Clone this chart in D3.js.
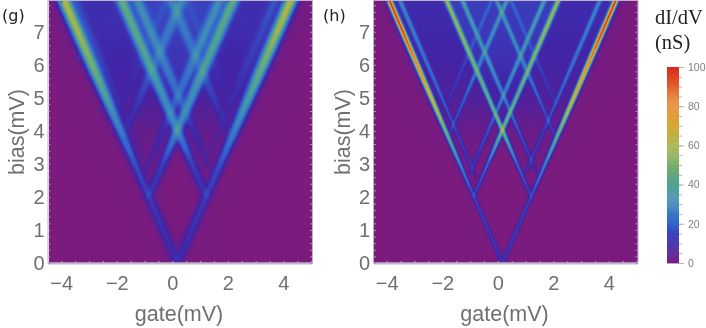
<!DOCTYPE html>
<html>
<head>
<meta charset="utf-8">
<script src="https://cdn.jsdelivr.net/npm/d3@7"></script>
<style>
html, body { margin: 0; padding: 0; background: #fff; }
#chart { position: relative; width: 706px; height: 328px; overflow: hidden; filter: blur(0.45px); }
canvas { position: absolute; }
svg { position: absolute; left: 0; top: 0; }
.tick text { font-family: "Liberation Sans", sans-serif; }
</style>
</head>
<body>
<div id="chart"></div>
<script>
// colour key of the figure, nS -> colour
const colorValues = [0, 2, 5, 9, 14, 20, 30, 40, 50, 60, 70, 80, 90, 100];
const colorStops = ["#7b1b7e", "#6c1c88", "#562096", "#4124a6", "#3a3cba", "#3562cc", "#3d88bb", "#4fa292", "#78ad6c", "#a9b44c", "#d3aa3a", "#e6923a", "#e4602e", "#d92a20"];

// crest lines of the conductance maps. "u" runs up and to the left, "v" up and to the right.
// crestGate is where the line would hit zero bias, crestStart the bias where it shows up
const crestKind = ["u", "u", "u", "u", "u", "u", "v", "v", "v", "v", "v", "v"];
const crestGate = [0.17, 0.55, 2.23, 2.8, 4.03, 4.55, 0.17, -0.4, -1.9, -2.4, -3.75, -4.3];
const crestStart = [0, 2.6, 1.95, 2.65, 3.8, 4.8, 0, 2.7, 1.95, 2.65, 3.8, 4.8];

// crest height (nS) read at these bias values
const biasKnots = [0, 2, 3, 4, 5, 6, 7, 7.9];
const crestsG = [
  [10, 13, 17, 26, 38, 50, 59, 63],
  [0, 0, 3, 5, 8, 10, 12, 12],
  [0, 11, 14, 28, 31, 38, 42, 44],
  [0, 0, 5, 10, 18, 24, 28, 29],
  [0, 0, 0, 7, 12, 18, 22, 26],
  [0, 0, 0, 0, 5, 7, 9, 9],
  [10, 13, 17, 27, 38, 48, 58, 63],
  [0, 0, 3, 5, 8, 10, 12, 14],
  [0, 11, 14, 28, 31, 37, 41, 43],
  [0, 0, 5, 10, 18, 24, 28, 29],
  [0, 0, 0, 7, 12, 18, 22, 26],
  [0, 0, 0, 0, 5, 7, 9, 9]
];
const crestsH = [
  [12, 15, 28, 50, 74, 84, 97, 98],
  [0, 0, 13, 14, 18, 22, 25, 27],
  [0, 13, 20, 50, 44, 50, 57, 58],
  [0, 0, 12, 17, 25, 30, 33, 35],
  [0, 0, 0, 13, 18, 25, 29, 32],
  [0, 0, 0, 0, 10, 12, 14, 15],
  [12, 15, 28, 50, 74, 84, 97, 98],
  [0, 0, 13, 14, 18, 22, 25, 27],
  [0, 13, 20, 50, 44, 50, 57, 58],
  [0, 0, 12, 17, 25, 30, 33, 35],
  [0, 0, 0, 13, 18, 25, 29, 32],
  [0, 0, 0, 0, 10, 12, 14, 15]
];
// crest width in gate units, same bias knots
const widthG = [0.14, 0.13, 0.13, 0.14, 0.15, 0.16, 0.16, 0.16];
const widthH = [0.06, 0.055, 0.055, 0.06, 0.065, 0.07, 0.07, 0.07];

// level between the crests
const plateauG = [0, 0, 1, 4, 9, 12, 14, 15];
const plateauH = [0, 0, 1, 3, 8, 11, 13, 14];

// stray points on the left edge of panel g: gate, bias, nS
const specksGate = [-3.42, -2.65, -2.55, -2.38];
const specksBias = [6.2, 4.62, 4.33, 4.1];
const specksValue = [14, 6, 5, 4];

const xTicks = [-4, -2, 0, 2, 4];
const yTicks = [0, 1, 2, 3, 4, 5, 6, 7];
const keyTicks = [0, 20, 40, 60, 80, 100];
const slope = 1.95;

const W = 706, H = 328, plotTop = 1, plotBottom = 263;
const grey = "#6f6f6f";
const color = d3.scaleLinear().domain(colorValues).range(colorStops).clamp(true);
const svg = d3.select("#chart").append("svg").attr("width", W).attr("height", H);

function smooth(t) {
  t = Math.max(0, Math.min(1, t));
  return t * t * (3 - 2 * t);
}

function drawPanel(name, labelX, left, right, crests, widths, plateau, specks) {
  const x = d3.scaleLinear().domain([-4.46, 5.03]).range([left, right]);
  const y = d3.scaleLinear().domain([0, 7.93]).range([plotBottom, plotTop]);
  const heights = crests.map(row => d3.scaleLinear().domain(biasKnots).range(row));
  const widthAt = d3.scaleLinear().domain(biasKnots).range(widths);
  const plateauAt = d3.scaleLinear().domain(biasKnots).range(plateau);

  const w = Math.round(right - left), h = plotBottom - plotTop;
  const canvas = d3.select("#chart").append("canvas")
    .attr("width", w).attr("height", h)
    .style("left", left + "px").style("top", plotTop + "px")
    .style("z-index", -1)
    .node();
  const ctx = canvas.getContext("2d");
  const img = ctx.createImageData(w, h);

  for (let j = 0; j < h; j++) {
    const bias = y.invert(plotTop + j + 0.5);
    const sig = widthAt(bias);
    const row = heights.map(f => f(bias));
    for (let i = 0; i < w; i++) {
      const gate = x.invert(left + i + 0.5);
      const u = gate + bias / slope, v = gate - bias / slope;
      // plateau: nothing in the blockade diamonds
      const inV = smooth((u - 0.17) / 0.2) * smooth((0.17 - v) / 0.2);
      const a = smooth((u - 2.23) / 0.25), b = smooth((-1.9 - v) / 0.25);
      const level = plateauAt(bias) * inV * Math.min(1, 0.75 * a + 0.75 * b);
      // crests and plateau add up in quadrature, they do not pile up
      let sum = level * level;
      crestKind.forEach((kind, k) => {
        if (bias < crestStart[k] - 0.3) return;
        const d = (kind === "u" ? u : v) - crestGate[k];
        const fade = smooth((bias - crestStart[k] + 0.15) / 0.3);
        const q = d * d / (sig * sig);
        const c = row[k] * fade * (0.92 * Math.exp(-q / 2) + 0.08 / (1 + q / 4));
        sum += c * c;
      });
      let val = Math.sqrt(sum);
      if (specks) {
        specks.forEach(s => {
          const dx = x(gate) - x(s[0]), dy = y(bias) - y(s[1]);
          val += s[2] * Math.exp(-(dx * dx + dy * dy) / 3);
        });
      }
      const c = d3.rgb(color(val));
      const p = (j * w + i) * 4;
      img.data[p] = c.r; img.data[p + 1] = c.g; img.data[p + 2] = c.b; img.data[p + 3] = 255;
    }
  }
  ctx.putImageData(img, 0, 0);

  // frame
  svg.append("rect")
    .attr("x", left - 0.5).attr("y", plotTop - 0.5)
    .attr("width", right - left + 1).attr("height", plotBottom - plotTop + 0.5)
    .attr("fill", "none").attr("stroke", "#bfb0c9").attr("stroke-width", 1);
  svg.append("line")
    .attr("x1", left - 0.5).attr("x2", right + 0.5)
    .attr("y1", plotBottom + 0.5).attr("y2", plotBottom + 0.5)
    .attr("stroke", "#c2b4cb").attr("stroke-width", 2);

  // small ticks on the frame
  const xMinor = d3.range(-4, 5.01, 0.5), yMinor = d3.range(0, 7.9, 0.2);
  svg.append("g").attr("transform", "translate(0," + plotBottom + ")")
    .call(d3.axisBottom(x).tickValues(xMinor).tickSize(-2).tickFormat(""))
    .call(g => g.select(".domain").remove())
    .call(g => g.selectAll("line").attr("stroke", "#b9a8c4"));
  svg.append("g").attr("transform", "translate(0," + plotTop + ")")
    .call(d3.axisTop(x).tickValues(xTicks).tickSize(-2).tickFormat(""))
    .call(g => g.select(".domain").remove())
    .call(g => g.selectAll("line").attr("stroke", "#556"));
  svg.append("g").attr("transform", "translate(" + left + ",0)")
    .call(d3.axisLeft(y).tickValues(yMinor).tickSize(-2).tickFormat(""))
    .call(g => g.select(".domain").remove())
    .call(g => g.selectAll("line").attr("stroke", "#a897b5"));
  svg.append("g").attr("transform", "translate(" + right + ",0)")
    .call(d3.axisRight(y).tickValues(yMinor).tickSize(-2).tickFormat(""))
    .call(g => g.select(".domain").remove())
    .call(g => g.selectAll("line").attr("stroke", "#a897b5"));

  // number labels
  svg.append("g").attr("transform", "translate(0," + plotBottom + ")")
    .call(d3.axisBottom(x).tickValues(xTicks).tickSize(0).tickPadding(13))
    .call(g => g.select(".domain").remove())
    .call(g => g.selectAll("text").attr("fill", grey).attr("font-size", 20));
  svg.append("g").attr("transform", "translate(" + (left - 3) + ",0)")
    .call(d3.axisLeft(y).tickValues(yTicks).tickFormat(d3.format("d")).tickSize(0).tickPadding(1))
    .call(g => g.select(".domain").remove())
    .call(g => g.selectAll("text").attr("fill", grey).attr("font-size", 20));

  svg.append("text").text("gate(mV)")
    .attr("x", left + 130.5).attr("y", 321)
    .attr("text-anchor", "middle")
    .attr("font-family", "Liberation Sans, sans-serif")
    .attr("font-size", 21.5).attr("fill", grey);
  svg.append("text").text("bias(mV)")
    .attr("transform", "translate(" + (left - 24.5) + ",132) rotate(-90)")
    .attr("text-anchor", "middle")
    .attr("font-family", "Liberation Sans, sans-serif")
    .attr("font-size", 21.5).attr("fill", grey);
  svg.append("text").text(name)
    .attr("x", labelX).attr("y", 21)
    .attr("font-family", "DejaVu Sans, sans-serif")
    .attr("font-size", 16).attr("fill", "#222");
}

function drawKey() {
  const kx = 667, kw = 12, ky0 = 67, ky1 = 263;
  const k = d3.scaleLinear().domain([0, 100]).range([ky1, ky0]);
  svg.selectAll(".keycell").data(d3.range(0, 100, 0.5)).join("rect")
    .attr("class", "keycell")
    .attr("x", kx).attr("width", kw)
    .attr("y", d => k(d + 0.5))
    .attr("height", d => k(d) - k(d + 0.5) + 0.4)
    .attr("fill", d => color(d + 0.25));
  svg.append("g").attr("transform", "translate(" + (kx + kw) + ",0)")
    .call(d3.axisRight(k).tickValues(d3.range(0, 101, 5)).tickSize(3).tickFormat(""))
    .call(g => g.select(".domain").remove())
    .call(g => g.selectAll("line").attr("stroke", "#b5b5b5"));
  svg.append("g").attr("transform", "translate(" + (kx + kw) + ",0)")
    .call(d3.axisRight(k).tickValues(keyTicks).tickSize(5).tickPadding(4))
    .call(g => g.select(".domain").remove())
    .call(g => g.selectAll("line").attr("stroke", "#b5b5b5"))
    .call(g => g.selectAll("text").attr("fill", "#808080").attr("font-size", 10.5));
  ["dI/dV", "(nS)"].forEach((t, i) => {
    svg.append("text").text(t)
      .attr("x", 655).attr("y", 24 + i * 25)
      .attr("font-family", "Liberation Serif, serif")
      .attr("font-size", 20.5).attr("fill", "#222");
  });
}

const specks = specksGate.map((g, i) => [g, specksBias[i], specksValue[i]]);
drawPanel("(g)", 2, 48.5, 312, crestsG, widthG, plateauG, specks);
drawPanel("(h)", 323, 374, 637.5, crestsH, widthH, plateauH, null);
drawKey();
</script>
</body>
</html>
